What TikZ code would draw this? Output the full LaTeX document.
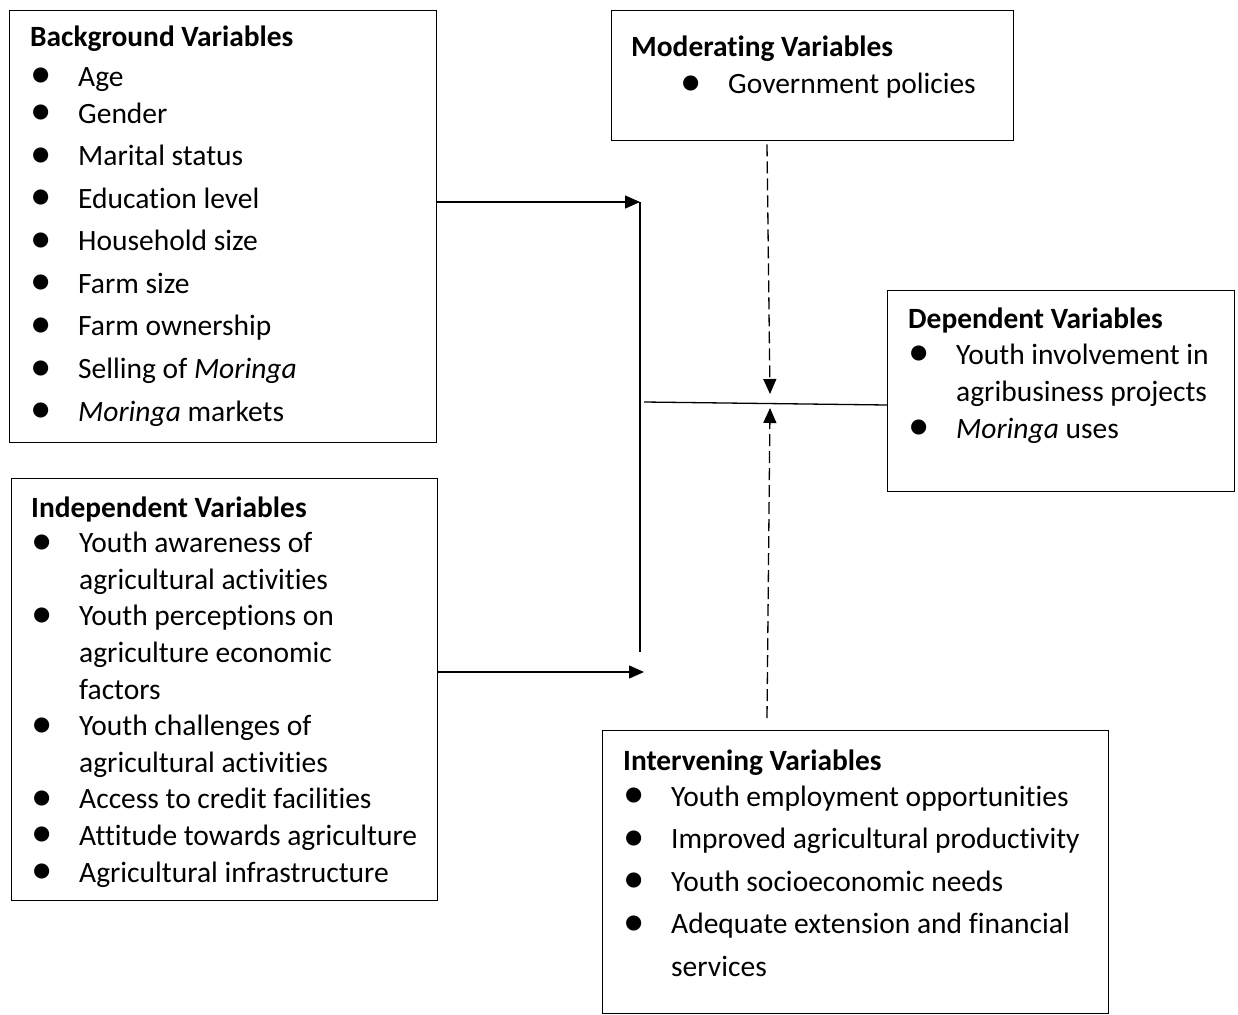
\documentclass[tikz,border=0pt]{standalone}
\usepackage{fontspec}
\setmainfont{Carlito}[Ligatures={NoCommon}]
\usetikzlibrary{arrows.meta}
\tikzset{
  varbox/.style={draw, line width=1.3pt, inner sep=0pt, anchor=north west},
  vartext/.style={anchor=base west, inner sep=0pt, font=\fontsize{29.5}{#1}\selectfont},
  link/.style={line width=1.3pt},
  solidarr/.style={link, -{Triangle[length=15pt,width=13pt]}},
  dasharr/.style={link, dash pattern=on 12pt off 5pt, -{Triangle[length=15pt,width=13pt]}}
}
\newcommand{\vhead}[1]{{\fontsize{29.4}{30}\selectfont\bfseries #1}}
\newcommand{\vitem}[1]{\makebox[48pt][l]{\raisebox{-1.5pt}{\scalebox{1.45}{\textbullet}}}#1}
\newcommand{\vcont}[1]{\hspace*{48pt}#1}
\newcommand{\vlines}[1]{\parbox[t]{500pt}{\raggedright #1}}

\begin{document}
\begin{tikzpicture}[x=1pt,y=-1pt]
		%%%%% START %%%%%
		\useasboundingbox (0,0) rectangle (1238,1014);
		
		\node[varbox, minimum width=427pt, minimum height=432pt] (bg) at (9,10) {};
		\node[varbox, minimum width=402pt, minimum height=130pt] (mod) at (611,10) {};
		\node[varbox, minimum width=347pt, minimum height=201pt] (dep) at (887,290) {};
		\node[varbox, minimum width=426pt, minimum height=422pt] (ind) at (11,478) {};
		\node[varbox, minimum width=506pt, minimum height=283pt] (itv) at (602,730) {};
		
		\node[vartext=42.5] (bgtext) at (30,47) {\vlines{\vhead{Background Variables}\\[-3pt]
			\vitem{Age}\\[-5.5pt]
			\vitem{Gender}\\
			\vitem{Marital status}\\
			\vitem{Education level}\\
			\vitem{Household size}\\
			\vitem{Farm size}\\
			\vitem{Farm ownership}\\
			\vitem{Selling of \textit{Moringa}}\\
			\vitem{\textit{Moringa} markets}}};
		
		\node[vartext=38] (modtext) at (631,57) {\vlines{\vhead{Moderating Variables}\\[-1pt]
			\hspace*{49pt}\vitem{Government policies}}};
		
		\node[vartext=37] (deptext) at (908,328) {\vlines{\vhead{Dependent Variables}\\[-1pt]
			\vitem{Youth involvement in}\\
			\vcont{agribusiness projects}\\
			\vitem{\textit{Moringa} uses}}};
		
		\node[vartext=36.6] (indtext) at (31,517) {\vlines{\vhead{Independent Variables}\\[-1pt]
			\vitem{Youth awareness of}\\
			\vcont{agricultural activities}\\
			\vitem{Youth perceptions on}\\
			\vcont{agriculture economic}\\
			\vcont{factors}\\
			\vitem{Youth challenges of}\\
			\vcont{agricultural activities}\\
			\vitem{Access to credit facilities}\\
			\vitem{Attitude towards agriculture}\\
			\vitem{Agricultural infrastructure}}};
		
		\node[vartext=42.5] (itvtext) at (623,770) {\vlines{\vhead{Intervening Variables}\\[-6.5pt]
			\vitem{Youth employment opportunities}\\
			\vitem{Improved agricultural productivity}\\
			\vitem{Youth socioeconomic needs}\\
			\vitem{Adequate extension and financial}\\
			\vcont{services}}};
		
		\coordinate (j1) at (640,202);
		\coordinate (j2) at (640,652);
		\coordinate (j3) at (644,672);
		\coordinate (mid) at (644,402);
		\coordinate (dj) at (887,405);
		\coordinate (mx) at (767,0);
		\coordinate (modtip) at (770,394);
		\coordinate (itvout) at (767,718);
		\coordinate (itvtip) at (770,408);
		
		\draw[solidarr] (bg.east |- j1) -- (j1);
		\draw[link] (j1) -- (j2);
		\draw[solidarr] (ind.east |- j3) -- (j3);
		\draw[link] (mid) -- (dj);
		
		\draw[dasharr] ([yshift=-3pt]mod.south -| mx) -- (modtip);
		\draw[dasharr] (itvout) -- (itvtip);
		
		%%%%% END %%%%%
	\end{tikzpicture}
\end{document}
